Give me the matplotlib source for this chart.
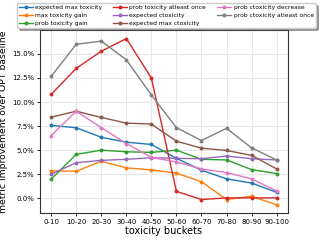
import numpy as np
import matplotlib; matplotlib.use("agg")
import matplotlib.pyplot as plt
from matplotlib.ticker import PercentFormatter

buckets = ["0-10", "10-20", "20-30", "30-40", "40-50", "50-60", "60-70", "70-80", "80-90", "90-100"]
expected_max_toxicity = [7.57, 7.33, 6.34, 5.83, 5.59, 4.15, 2.92, 2.02, 1.58, 0.62]
max_toxicity_gain = [2.85, 2.81, 3.84, 3.16, 2.95, 2.61, 1.72, -0.13, 0.21, -0.68]
prob_toxicity_gain = [1.99, 4.56, 5.0, 4.83, 4.77, 5.0, 4.05, 3.98, 2.98, 2.57]
prob_toxicity_atleast_once = [10.8, 13.5, 15.28, 16.6, 12.5, 0.72, -0.13, 0.04, 0.04, 0.04]
expected_ctoxicity = [2.5, 3.7, 3.94, 4.05, 4.21, 4.15, 4.11, 4.39, 4.11, 3.98]
expected_max_ctoxicity = [8.43, 9.05, 8.4, 7.81, 7.71, 5.93, 5.21, 4.97, 4.46, 3.05]
prob_ctoxicity_decrease = [6.52, 9.05, 7.34, 5.69, 4.25, 3.77, 3.05, 2.67, 2.02, 0.76]
prob_ctoxicity_atleast_once = [12.68, 16.0, 16.34, 14.39, 10.73, 7.34, 6.0, 7.27, 5.24, 3.98]

series = [
    ("expected max toxicity", expected_max_toxicity),
    ("max toxicity gain", max_toxicity_gain),
    ("prob toxicity gain", prob_toxicity_gain),
    ("prob toxicity atleast once", prob_toxicity_atleast_once),
    ("expected ctoxicity", expected_ctoxicity),
    ("expected max ctoxicity", expected_max_ctoxicity),
    ("prob ctoxicity decrease", prob_ctoxicity_decrease),
    ("prob ctoxicity atleast once", prob_ctoxicity_atleast_once),
]

fig = plt.figure(figsize=(3.22, 2.4), dpi=100)
ax = fig.add_axes([0.124, 0.112, 0.770, 0.762])
x = np.arange(len(buckets))
for name, vals in series:
    ax.plot(x, vals, marker="o", markersize=1.8, lw=1.0, label=name)

ax.set_xticks(x)
ax.set_xticklabels(buckets, fontsize=5)
ax.yaxis.set_major_formatter(PercentFormatter(decimals=1))
ax.tick_params(axis="y", labelsize=5)
ax.tick_params(length=2, width=0.6, pad=2)
ax.grid(True, color="#e6e6e6", lw=0.8)
ax.set_axisbelow(True)
for s in ax.spines.values():
    s.set_color("#333333"); s.set_linewidth(0.8)
ax.set_xlabel("toxicity buckets", fontsize=7, labelpad=1)
ax.set_ylabel("metric improvement over OPT baseline", fontsize=6.7, labelpad=3)
fig.legend(*ax.get_legend_handles_labels(), loc="upper left",
           bbox_to_anchor=(17/322, 1 - 3/240), ncol=3, fontsize=4.3,
           frameon=True, shadow=True, handlelength=2.3, columnspacing=1.9,
           labelspacing=0.45, borderpad=0.3, handletextpad=0.4, borderaxespad=0)
fig.savefig("out.png", dpi=100)
